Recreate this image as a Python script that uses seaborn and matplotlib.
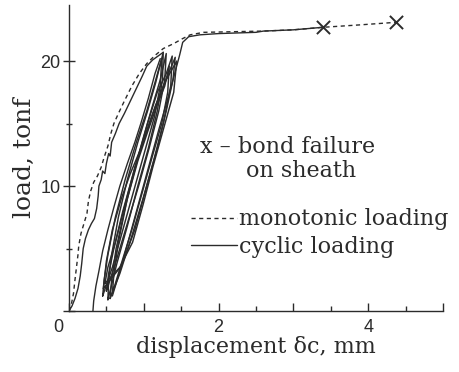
import matplotlib
matplotlib.use('Agg')
import matplotlib.pyplot as plt
import matplotlib.transforms as mtransforms
import pandas as pd
import seaborn as sns
from matplotlib.lines import Line2D

# monotonic loading (dashed)
mono_x = [0.0, 0.03, 0.06, 0.08, 0.10, 0.12, 0.13, 0.16, 0.20, 0.24, 0.26, 0.29, 0.33, 0.38,
          0.43, 0.47, 0.52, 0.56, 0.60, 0.66, 0.74, 0.84, 0.94, 1.04, 1.14, 1.26, 1.40, 1.52,
          1.62, 1.80, 2.20, 2.60, 3.00, 3.39, 3.90, 4.37]
mono_y = [0.0, 0.5, 1.4, 2.5, 3.5, 4.5, 5.2, 6.2, 7.0, 7.8, 8.8, 9.6, 10.3, 10.8,
          11.5, 12.3, 13.2, 14.2, 15.0, 15.8, 16.8, 18.0, 19.0, 19.8, 20.4, 21.0, 21.4, 21.8,
          22.1, 22.3, 22.35, 22.4, 22.5, 22.7, 22.9, 23.1]

# cyclic loading: first (virgin) branch
env_x = [0.0, 0.04, 0.08, 0.12, 0.15, 0.17, 0.19, 0.22, 0.26, 0.30, 0.34, 0.37, 0.39, 0.40,
         0.43, 0.45, 0.48, 0.50, 0.53, 0.55, 0.57, 0.62, 0.67, 0.74, 0.82, 0.90, 0.98, 1.04,
         1.12, 1.26]
env_y = [0.0, 0.4, 1.0, 1.8, 2.8, 3.8, 5.0, 5.8, 6.5, 7.0, 7.4, 8.2, 9.2, 10.0,
         10.5, 11.2, 11.0, 11.8, 12.6, 12.4, 13.5, 14.2, 15.0, 15.8, 16.8, 17.8, 18.8, 19.6,
         20.1, 20.7]

# reloading branch starting from residual displacement
ramp_x = [0.32, 0.33, 0.36, 0.40, 0.45, 0.52, 0.60, 0.68, 0.78, 0.88, 0.96, 1.06, 1.15, 1.22]
ramp_y = [0.0, 0.8, 2.0, 3.2, 4.8, 6.5, 8.3, 10.0, 11.8, 13.5, 15.0, 17.0, 19.0, 20.2]

# hysteresis loops
cycle_x = [
    [0.45, 0.47, 0.52, 0.62, 0.75, 0.90, 1.04, 1.16, 1.24, 1.22, 1.14, 1.00, 0.86, 0.72, 0.58, 0.45],
    [0.50, 0.53, 0.60, 0.72, 0.86, 1.00, 1.12, 1.22, 1.30, 1.28, 1.20, 1.07, 0.93, 0.78, 0.63, 0.50],
    [0.55, 0.57, 0.63, 0.76, 0.91, 1.05, 1.18, 1.30, 1.38, 1.36, 1.26, 1.13, 0.99, 0.84, 0.68, 0.55],
    [0.48, 0.52, 0.62, 0.75, 0.88, 1.02, 1.16, 1.30, 1.44, 1.40, 1.26, 1.12, 0.99, 0.85, 0.68, 0.48],
    [0.58, 0.60, 0.66, 0.78, 0.92, 1.06, 1.18, 1.28, 1.34, 1.32, 1.24, 1.12, 0.98, 0.84, 0.70, 0.58],
    [0.52, 0.53, 0.57, 0.66, 0.78, 0.92, 1.05, 1.16, 1.26, 1.25, 1.18, 1.06, 0.92, 0.78, 0.64, 0.52],
    [0.46, 0.50, 0.58, 0.70, 0.82, 0.96, 1.10, 1.26, 1.42, 1.39, 1.30, 1.18, 1.04, 0.88, 0.70, 0.46],
]
cycle_y = [
    [1.2, 2.5, 4.5, 7.5, 10.5, 13.5, 16.0, 18.5, 20.2, 18.0, 15.5, 12.5, 9.5, 6.5, 3.5, 1.2],
    [1.6, 3.0, 5.0, 8.0, 11.0, 14.0, 16.5, 18.5, 20.6, 18.5, 16.0, 13.0, 10.0, 7.0, 4.0, 1.6],
    [1.0, 2.5, 5.0, 8.5, 12.0, 15.0, 17.5, 19.0, 20.4, 18.0, 15.0, 12.0, 9.0, 6.0, 3.0, 1.0],
    [2.2, 3.5, 5.5, 8.5, 11.5, 14.0, 16.5, 18.5, 20.0, 17.5, 14.5, 11.5, 8.5, 5.5, 3.5, 2.2],
    [1.4, 3.0, 5.5, 9.0, 12.0, 14.5, 16.5, 18.0, 19.6, 17.5, 15.0, 12.5, 9.5, 6.5, 3.8, 1.4],
    [0.9, 2.5, 4.5, 7.5, 10.5, 13.5, 16.0, 18.3, 20.7, 18.5, 16.0, 13.0, 10.0, 6.8, 3.8, 0.9],
    [1.8, 4.0, 6.5, 9.0, 11.0, 13.0, 15.5, 18.0, 20.3, 18.5, 16.0, 13.0, 10.0, 6.5, 3.6, 1.8],
]

# last reloading up to failure
final_x = [0.58, 0.72, 0.88, 1.04, 1.20, 1.36, 1.48, 1.52, 1.60, 1.75, 2.00, 2.50, 2.60, 3.00, 3.39]
final_y = [1.2, 4.0, 7.5, 11.0, 14.5, 17.8, 20.5, 21.5, 21.95, 22.1, 22.2, 22.3, 22.4, 22.5, 22.7]

# bond failure points
fail_x = [3.39, 4.37]
fail_y = [22.7, 23.1]

sns.set_theme(style='ticks')
ink = '#2b2b2b'

rows = []
for i, (cx, cy) in enumerate(zip(cycle_x, cycle_y)):
    for j, (a, b) in enumerate(zip(cx, cy)):
        rows.append({'cycle': i, 'step': j, 'disp': a, 'load': b})
df_cyc = pd.DataFrame(rows)

fig = plt.figure(figsize=(4.6, 3.72), dpi=100)
ax = fig.add_axes([0.15, 0.164, 0.813, 0.823])

sns.lineplot(data=df_cyc, x='disp', y='load', units='cycle', estimator=None, sort=False,
             color=ink, lw=1.05, ax=ax)
sns.lineplot(x=env_x, y=env_y, sort=False, estimator=None, color=ink, lw=1.0, ax=ax)
sns.lineplot(x=ramp_x, y=ramp_y, sort=False, estimator=None, color=ink, lw=1.0, ax=ax)
sns.lineplot(x=final_x, y=final_y, sort=False, estimator=None, color=ink, lw=1.0, ax=ax)
sns.lineplot(x=mono_x, y=mono_y, sort=False, estimator=None, color=ink, lw=1.0,
             ax=ax).lines[-1].set_dashes([3, 2.5])
ax.scatter(fail_x, fail_y, marker='x', s=90, color=ink, linewidths=1.4, zorder=5)

ax.set_xlim(0, 5)
ax.set_ylim(0, 24.5)
sns.despine(ax=ax)
for s in ['left', 'bottom']:
    ax.spines[s].set_color(ink)
    ax.spines[s].set_linewidth(1.0)

ax.set_xticks([0, 1, 2, 3, 4, 5])
ax.set_xticklabels(['0', '', '2', '', '4', ''])
ax.set_xticks([0.5, 1.5, 2.5, 3.5, 4.5], minor=True)
ax.set_yticks([0, 10, 20])
ax.set_yticklabels(['', '10', '20'])
ax.set_yticks([5, 15], minor=True)
ax.tick_params(axis='x', which='major', direction='in', length=6, width=1, color=ink,
               labelsize=13, labelcolor=ink, pad=6)
ax.tick_params(axis='x', which='minor', direction='in', length=3.5, width=1, color=ink)
ax.tick_params(axis='y', which='major', direction='inout', length=8, width=1, color=ink,
               labelsize=13, labelcolor=ink, pad=2)
ax.tick_params(axis='y', which='minor', direction='inout', length=5, width=1, color=ink)
for t in ax.get_xticklabels() + ax.get_yticklabels():
    t.set_family('Liberation Sans')
zero = ax.get_xticklabels()[0]
zero.set_horizontalalignment('right')
zero.set_transform(zero.get_transform() +
                   mtransforms.ScaledTranslation(-6 / 100, 0, fig.dpi_scale_trans))

serif = 'DejaVu Serif'
ax.set_xlabel('displacement δc, mm', family=serif, fontsize=16, color=ink, labelpad=0)
ax.set_ylabel('load, tonf', family=serif, fontsize=18, color=ink, labelpad=3)

ax.text(1.75, 13.1, 'x – bond failure', family=serif, fontsize=16, color=ink, va='center')
ax.text(2.37, 11.2, 'on sheath', family=serif, fontsize=16, color=ink, va='center')

handles = [Line2D([], [], color=ink, lw=1.0, dashes=[3, 2.5]), Line2D([], [], color=ink, lw=1.0)]
ax.legend(handles, ['monotonic loading', 'cyclic loading'], loc='upper left',
          bbox_to_anchor=(0.325, 0.335), frameon=False, handlelength=2.1, handletextpad=0.1,
          labelspacing=0.25, borderaxespad=0, borderpad=0,
          prop={'family': serif, 'size': 16}, labelcolor=ink)

fig.savefig('out.png', dpi=100)
